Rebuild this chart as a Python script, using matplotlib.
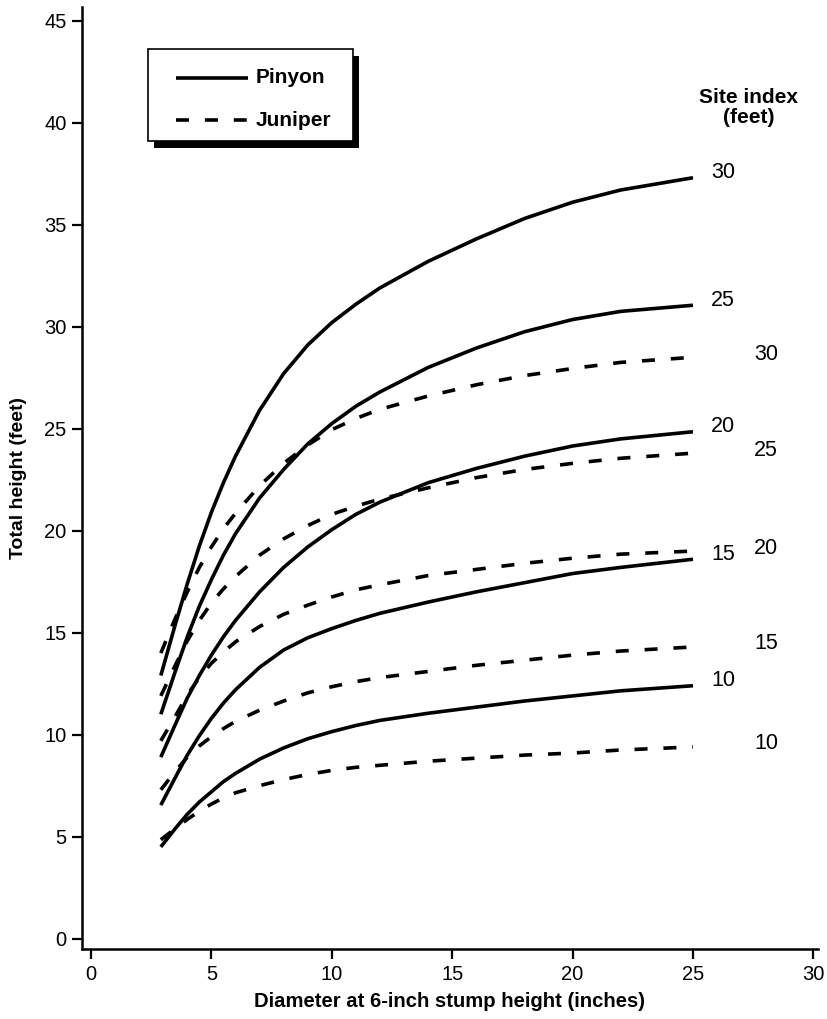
import numpy as np
import matplotlib.pyplot as plt
from matplotlib.patches import Rectangle

plt.rcParams['font.family'] = ['Liberation Sans', 'DejaVu Sans']

# diameter (inches) where the curves were read
diam = [2.9, 3.5, 4, 4.5, 5, 5.5, 6, 7, 8, 9, 10, 11, 12, 14, 16, 18, 20, 22, 25]

site_index = [30, 25, 20, 15, 10]

# Pinyon total height (feet), one list per site index
pinyon_30 = [12.9, 15.4, 17.4, 19.25, 20.9, 22.35, 23.65, 25.9, 27.7, 29.1, 30.2, 31.1, 31.9,
             33.2, 34.3, 35.3, 36.1, 36.7, 37.3]
pinyon_25 = [11.0, 13.1, 14.8, 16.3, 17.6, 18.8, 19.85, 21.6, 23.0, 24.25, 25.25, 26.1, 26.8,
             28.0, 28.95, 29.75, 30.35, 30.75, 31.05]
pinyon_20 = [8.9, 10.5, 11.8, 12.9, 13.9, 14.8, 15.6, 17.0, 18.2, 19.2, 20.05, 20.8, 21.4,
             22.35, 23.05, 23.65, 24.15, 24.5, 24.85]
pinyon_15 = [6.55, 7.9, 9.0, 9.95, 10.8, 11.55, 12.2, 13.3, 14.15, 14.75, 15.2, 15.6, 15.95,
             16.5, 17.0, 17.45, 17.9, 18.2, 18.6]
pinyon_10 = [4.5, 5.4, 6.1, 6.7, 7.2, 7.7, 8.1, 8.8, 9.35, 9.8, 10.15, 10.45, 10.7,
             11.05, 11.35, 11.65, 11.9, 12.15, 12.4]

# Juniper total height (feet)
juniper_30 = [14.0, 15.7, 17.0, 18.2, 19.2, 20.1, 20.85, 22.2, 23.3, 24.2, 24.95, 25.5, 25.95,
              26.6, 27.15, 27.6, 27.95, 28.25, 28.5]
juniper_25 = [11.9, 13.4, 14.6, 15.6, 16.45, 17.15, 17.75, 18.8, 19.6, 20.25, 20.8, 21.2, 21.55,
              22.1, 22.6, 23.0, 23.3, 23.55, 23.8]
juniper_20 = [9.7, 10.9, 11.95, 12.8, 13.5, 14.05, 14.55, 15.3, 15.9, 16.35, 16.75, 17.1, 17.35,
              17.8, 18.1, 18.4, 18.65, 18.85, 19.0]
juniper_15 = [7.3, 8.2, 8.9, 9.45, 9.9, 10.3, 10.65, 11.2, 11.65, 12.05, 12.35, 12.6, 12.8,
              13.1, 13.4, 13.65, 13.9, 14.1, 14.3]
juniper_10 = [4.85, 5.4, 5.85, 6.25, 6.6, 6.9, 7.15, 7.5, 7.8, 8.05, 8.25, 8.4, 8.5,
              8.7, 8.85, 9.0, 9.1, 9.25, 9.4]

pinyon = [pinyon_30, pinyon_25, pinyon_20, pinyon_15, pinyon_10]
juniper = [juniper_30, juniper_25, juniper_20, juniper_15, juniper_10]

lw = 2.6
dash = (0, (3.6, 4.4))

fig = plt.figure(figsize=(8.28, 10.19), dpi=100)
ax = fig.add_axes([81.7 / 828, 1 - 949.3 / 1019, (817.7 - 81.7) / 828, (949.3 - 7) / 1019])

for si, h in zip(site_index, pinyon):
    ax.plot(diam, h, color='black', lw=lw, solid_capstyle='butt', solid_joinstyle='round')
    ax.text(25.75, h[-1] + 0.25, str(si), ha='left', va='center', fontsize=15.5)

for si, h in zip(site_index, juniper):
    ax.plot(diam, h, color='black', lw=lw, linestyle=dash, dash_capstyle='butt')
    ax.text(27.55, h[-1] + 0.15, str(si), ha='left', va='center', fontsize=15.5)

ax.text(27.3, 40.75, "Site index\n(feet)", ha='center', va='center',
        fontsize=15, fontweight='bold', linespacing=1.1)

# legend box with heavy drop shadow
ax.add_patch(Rectangle((2.62, 38.76), 8.53, 4.5, facecolor='black', edgecolor='none', zorder=4))
ax.add_patch(Rectangle((2.37, 39.1), 8.53, 4.5, facecolor='white', edgecolor='black', lw=1.2, zorder=5))
ax.plot([3.53, 6.52], [42.2, 42.2], color='black', lw=lw, zorder=6, solid_capstyle='butt')
ax.plot([3.53, 6.52], [40.13, 40.13], color='black', lw=lw, linestyle=dash,
        dash_capstyle='butt', zorder=6)
ax.text(6.85, 42.2, "Pinyon", fontsize=15, fontweight='bold', va='center', zorder=6)
ax.text(6.85, 40.13, "Juniper", fontsize=15, fontweight='bold', va='center', zorder=6)

ax.set_xlim(-0.386, 30.18)
ax.set_ylim(-0.52, 45.67)
ax.set_xticks(np.arange(0, 31, 5))
ax.set_yticks(np.arange(0, 46, 5))
ax.spines['top'].set_visible(False)
ax.spines['right'].set_visible(False)
ax.spines['left'].set_linewidth(1.8)
ax.spines['bottom'].set_linewidth(1.8)
ax.tick_params(direction='out', length=7, width=1.6, labelsize=14.5, pad=4)

ax.set_xlabel("Diameter at 6-inch stump height (inches)", fontsize=14.6, fontweight='bold', labelpad=6)
ax.set_ylabel("Total height (feet)", fontsize=14, fontweight='bold', labelpad=12)

fig.savefig("out.png", dpi=100)
